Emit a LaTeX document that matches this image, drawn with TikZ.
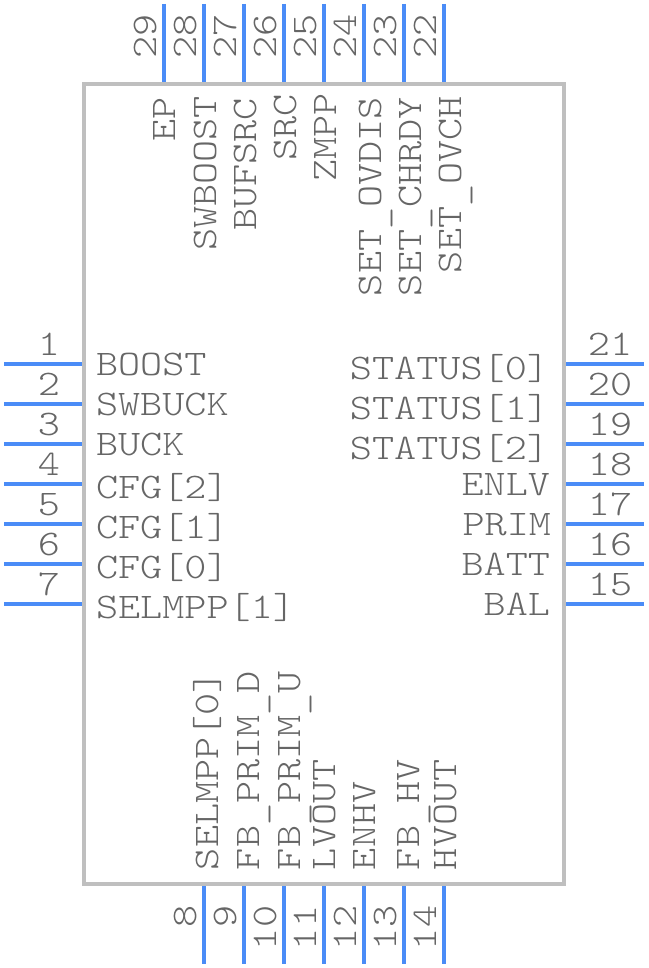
\documentclass[tikz,border=0pt]{standalone}
\usepackage{fontspec}
\setmonofont[FakeStretch=1.17]{Latin Modern Mono Light}
\definecolor{pinblue}{HTML}{4A8CF7}
\definecolor{boxgray}{HTML}{BFBFBF}
\definecolor{txtgray}{HTML}{666666}
\newcommand\usc{\raisebox{-5pt}{\_}}
\tikzset{
  pinline/.style={draw=pinblue,line width=4pt},
  body/.style={draw=boxgray,line width=4pt},
  lbl/.style={inner sep=0pt,outer sep=0pt,text=txtgray,font=\fontsize{36}{36}\selectfont\ttfamily},
  west/.style={lbl,anchor=base west},
  east/.style={lbl,anchor=base east},
  midb/.style={lbl,anchor=base},
  vert/.style={lbl,anchor=base west,rotate=90},
}
\begin{document}
\begin{tikzpicture}[x=1pt,y=-1pt]
\useasboundingbox (0,0) rectangle (648,968);
\draw[body] (84,84) rectangle (564,884);
% left pins
\foreach \n/\y/\t/\b in {1/364/BOOST/375,2/404/SWBUCK/415,3/444/BUCK/455,4/484/CFG[2]/498,5/524/CFG[1]/538,6/564/CFG[0]/578,7/604/SELMPP[1]/618}{
  \coordinate (la\n) at (4,\y); \coordinate (lb\n) at (82,\y);
  \draw[pinline] (la\n) -- (lb\n);
  \node[midb] (ln\n) at (49,\y-9) {\n};
  \node[west] (lt\n) at (96,\b) {\t};
}
% right pins
\foreach \n/\y/\t/\b/\r in {21/364/STATUS[0]/379/549,20/404/STATUS[1]/419/549,19/444/STATUS[2]/459/549,18/484/ENLV/495/550,17/524/PRIM/535/551,16/564/BATT/575/550,15/604/BAL/615/550}{
  \coordinate (ra\n) at (566,\y); \coordinate (rb\n) at (644,\y);
  \draw[pinline] (ra\n) -- (rb\n);
  \node[midb] (rn\n) at (610,\y-9) {\n};
  \node[east] (rt\n) at (\r,\b) {\t};
}
% top pins
\foreach \n/\x/\t/\b/\s in {29/164/EP/175/142,28/204/SWBOOST/216/251,27/244/BUFSRC/256/231,26/284/SRC/296/161,25/324/ZMPP/336/182,24/364/SET\usc OVDIS/381/296,23/404/SET\usc CHRDY/421/296,22/444/SET\usc OVCH/461/273}{
  \coordinate (ta\n) at (\x,4); \coordinate (tb\n) at (\x,82);
  \draw[pinline] (ta\n) -- (tb\n);
  \node[vert] (tn\n) at (\x-8,59) {\n};
  \node[vert] (tt\n) at (\b,\s) {\t};
}
% bottom pins
\foreach \n/\x/\t/\b/\s in {8/204/SELMPP[0]/218/927,9/244/FB\usc PRIM\usc D/259/927,10/284/FB\usc PRIM\usc U/300/950,11/324/LVOUT/335/950,12/364/ENHV/375/950,13/404/FB\usc HV/419/950,14/444/HVOUT/456/950}{
  \coordinate (ba\n) at (\x,886); \coordinate (bb\n) at (\x,964);
  \draw[pinline] (ba\n) -- (bb\n);
  \node[vert] (bn\n) at (\x-8,\s) {\n};
  \node[vert] (bt\n) at (\b,870) {\t};
}
\end{tikzpicture}
\end{document}
